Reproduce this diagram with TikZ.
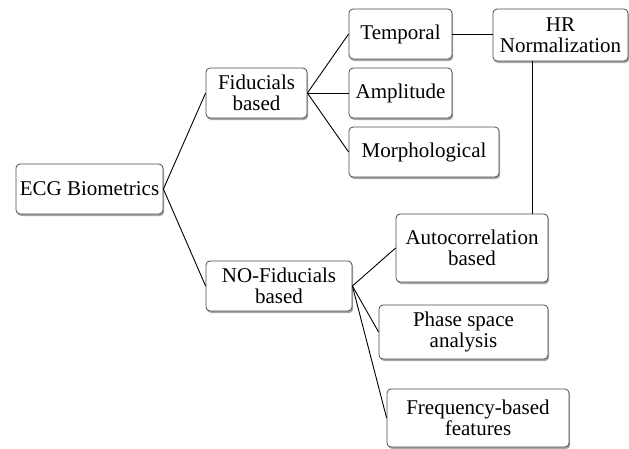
\documentclass[tikz,border=0pt]{standalone}
\usepackage{fontspec}
\setmainfont{Liberation Serif}
\usetikzlibrary{shadows}
\begin{document}
\begin{tikzpicture}[x=1pt,y=-1pt,
  box/.style={draw=black!70, line width=0.8pt, rounded corners=4pt, fill=white,
    drop shadow={shadow xshift=1.2pt, shadow yshift=-2pt, opacity=0.35, fill=black},
    align=center, inner sep=2pt, font=\rmfamily\fontsize{21}{21.5}\selectfont},
  link/.style={line width=0.9pt, black}]
\useasboundingbox (0,0) rectangle (629,448);
\node[box, minimum width=147pt, minimum height=50pt] (ecg) at (89.5,189) {ECG Biometrics};
\node[box, minimum width=101pt, minimum height=50pt] (fid) at (256.5,93) {Fiducials\\based};
\node[box, minimum width=146pt, minimum height=50pt] (nofid) at (279,286) {NO-Fiducials\\based};
\node[box, minimum width=103pt, minimum height=50pt] (temp) at (400.5,34) {Temporal};
\node[box, minimum width=103pt, minimum height=50pt] (amp) at (400.5,93) {Amplitude};
\node[box, minimum width=150pt, minimum height=50pt] (morph) at (424,152) {Morphological};
\node[box, minimum width=135pt, minimum height=52pt] (hr) at (560.5,35) {HR\\Normalization};
\node[box, minimum width=152pt, minimum height=68pt] (auto) at (472,248) {Autocorrelation\\based};
\node[box, minimum width=169pt, minimum height=54pt] (phase) at (463.5,332) {Phase space\\analysis};
\node[box, minimum width=182pt, minimum height=58pt] (freq) at (478,418) {Frequency-based\\features};
\coordinate (hrdown) at ([xshift=-28.5pt]hr.south);
\draw[link] (ecg.east) -- (fid.west);
\draw[link] (ecg.east) -- (nofid.west);
\draw[link] (fid.east) -- (temp.west);
\draw[link] (fid.east) -- (amp.west);
\draw[link] (fid.east) -- (morph.west);
\draw[link] (temp.east) -- (temp.east -| hr.west);
\draw[link] (hrdown) -- (hrdown |- auto.north);
\draw[link] (nofid.east) -- (auto.west);
\draw[link] (nofid.east) -- (phase.west);
\draw[link] (nofid.east) -- (freq.west);
\end{tikzpicture}
\end{document}
